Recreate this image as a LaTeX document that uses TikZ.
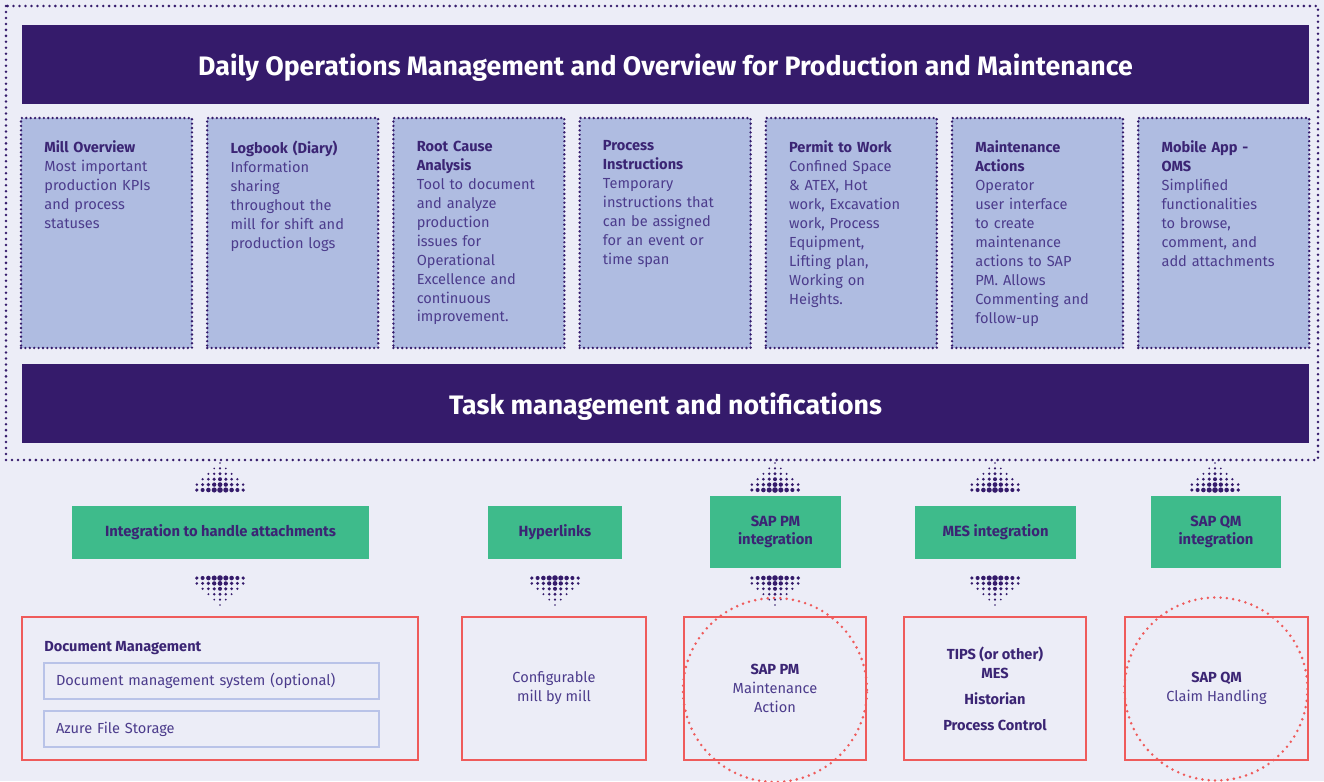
\documentclass[tikz,border=0pt]{standalone}
\usepackage{fontspec}
\setmainfont{Fira Sans}
\usetikzlibrary{positioning}
\definecolor{bgcol}{HTML}{ECEDF7}
\definecolor{darkpurple}{HTML}{351B6B}
\definecolor{titlepurple}{HTML}{3B2574}
\definecolor{bodypurple}{HTML}{4C3C8C}
\definecolor{lightbox}{HTML}{AFBCE1}
\definecolor{greenbox}{HTML}{3EBB8B}
\definecolor{redline}{HTML}{EF5B5B}
\definecolor{innerline}{HTML}{B9C3E8}
\tikzset{
  banner/.style={fill=darkpurple, text=white, font=\fontsize{15.2}{17}\selectfont\bfseries,
    minimum width=25.74cm, minimum height=1.58cm, inner sep=0pt, text depth=0pt},
  dotline/.style={line width=1.6pt, dash pattern=on 0pt off 3.4pt, line cap=round},
  lbox/.style={fill=lightbox, draw=darkpurple, line width=1.5pt, dash pattern=on 0pt off 2.5pt,
    line cap=round, minimum width=3.42cm, minimum height=4.6cm, inner sep=0pt},
  ltext/.style={text=bodypurple, font=\fontsize{8.3}{10.8}\selectfont, text width=3cm,
    align=left, inner sep=0pt, anchor=north west},
  gbox/.style={fill=greenbox, text=titlepurple, font=\fontsize{8.4}{10.6}\selectfont\bfseries,
    align=center, inner sep=0pt, minimum height=1.06cm},
  rbox/.style={draw=redline, line width=0.8pt, text=bodypurple, font=\fontsize{8.3}{10.8}\selectfont,
    align=center, inner sep=0pt, minimum height=2.86cm},
  ibox/.style={draw=innerline, line width=0.8pt, text=bodypurple, font=\fontsize{8.3}{10.8}\selectfont,
    minimum width=6.7cm, minimum height=0.72cm, text width=6.22cm, align=left, inner xsep=0.24cm},
  reddot/.style={draw=redline, line width=1.6pt, dash pattern=on 0pt off 3.6pt, line cap=round}
}
\newcommand{\halftone}[2]{%
  \begin{scope}[shift={#1}, yscale=#2]
    \foreach \r in {0,...,5}
      \foreach \c in {-4,...,4}{
        \pgfmathtruncatemacro{\dotok}{abs(\c)<=\r ? 1 : 0}
        \ifnum\dotok=1
          \fill[darkpurple] (\c*5.8, \r*5.4) circle[radius={(0.8+0.4*\r-0.25*abs(\c))*0.02cm}];
        \fi
      }
  \end{scope}}

\begin{document}
\begin{tikzpicture}[x=0.02cm, y=-0.02cm]
\useasboundingbox (0,0) rectangle (1324,781);
\fill[bgcol] (0,0) rectangle (1324,781);
\draw[darkpurple, dotline] (6,6) rectangle (1318,460);

\node[banner] (ops) at (665.5,64.5) {Daily Operations Management and Overview for Production and Maintenance};
\node[banner] (tasks) at (665.5,403.5) {Task management and notifications};

\foreach \i/\ttl/\body [evaluate=\i as \xl using 21+186.2*(\i-1)] in {
  1/{Mill Overview}/{Most important\\production KPIs\\and process\\statuses},
  2/{Logbook (Diary)}/{Information\\sharing\\throughout the\\mill for shift and\\production logs},
  3/{Root Cause\\Analysis}/{Tool to document\\and analyze\\production\\issues for\\Operational\\Excellence and\\continuous\\improvement.},
  4/{Process\\Instructions}/{Temporary\\instructions that\\can be assigned\\for an event or\\time span},
  5/{Permit to Work}/{Confined Space\\\& ATEX, Hot\\work, Excavation\\work, Process\\Equipment,\\Lifting plan,\\Working on\\Heights.},
  6/{Maintenance\\Actions}/{Operator\\user interface\\to create\\maintenance\\actions to SAP\\PM. Allows\\Commenting and\\follow-up},
  7/{Mobile App -\\OMS}/{Simplified\\functionalities\\to browse,\\comment, and\\add attachments}}{
  \node[lbox] (m\i) at (\xl+85.5,233) {};
  \node[ltext] (t\i) at (\xl+23,140.5) {{\color{titlepurple}\bfseries\ttl}\\\body};
}

\halftone{(220,463)}{1}
\halftone{(775,463)}{1}
\halftone{(995,463)}{1}
\halftone{(1215,463)}{1}

\node[gbox, minimum width=5.94cm] (g1) at (220.5,532.5) {Integration to handle attachments};
\node[gbox, minimum width=2.68cm] (g2) at (555,532.5) {Hyperlinks};
\node[gbox, minimum width=2.62cm, minimum height=1.44cm] (g3) at (775.5,532) {SAP PM\\integration};
\node[gbox, minimum width=3.22cm] (g4) at (995.5,532.5) {MES integration};
\node[gbox, minimum width=2.6cm, minimum height=1.44cm] (g5) at (1216,532) {SAP QM\\integration};

\halftone{(220,605)}{-1}
\halftone{(555,605)}{-1}
\halftone{(775,605)}{-1}
\halftone{(995,605)}{-1}

\node[rbox, minimum width=7.92cm] (r1) at (220,688.5) {};
\node[rbox, minimum width=3.68cm] (r2) at (554,688.5) {Configurable\\mill by mill};
\node[rbox, minimum width=3.64cm] (r3) at (775,688.5) {{\color{titlepurple}\bfseries SAP PM}\\Maintenance\\Action};
\node[rbox, minimum width=3.64cm, text=titlepurple, font=\fontsize{8.3}{10.8}\selectfont\bfseries] (r4) at (995,688.5)
  {TIPS (or other)\\MES\\[4pt]Historian\\[4pt]Process Control};
\node[rbox, minimum width=3.66cm] (r5) at (1216.5,688.5) {{\color{titlepurple}\bfseries SAP QM}\\Claim Handling};

\node[anchor=base west, inner sep=0pt, text=titlepurple, font=\fontsize{8.3}{10.8}\selectfont\bfseries] (dm) at (44,651) {Document Management};
\node[ibox] (d1) at (211.5,681) {Document management system (optional)};
\node[ibox] (d2) at (211.5,729) {Azure File Storage};

\draw[reddot] (775,690) circle[radius=1.84cm];
\draw[reddot] (1216,689) circle[radius=1.83cm];
\end{tikzpicture}
\end{document}
